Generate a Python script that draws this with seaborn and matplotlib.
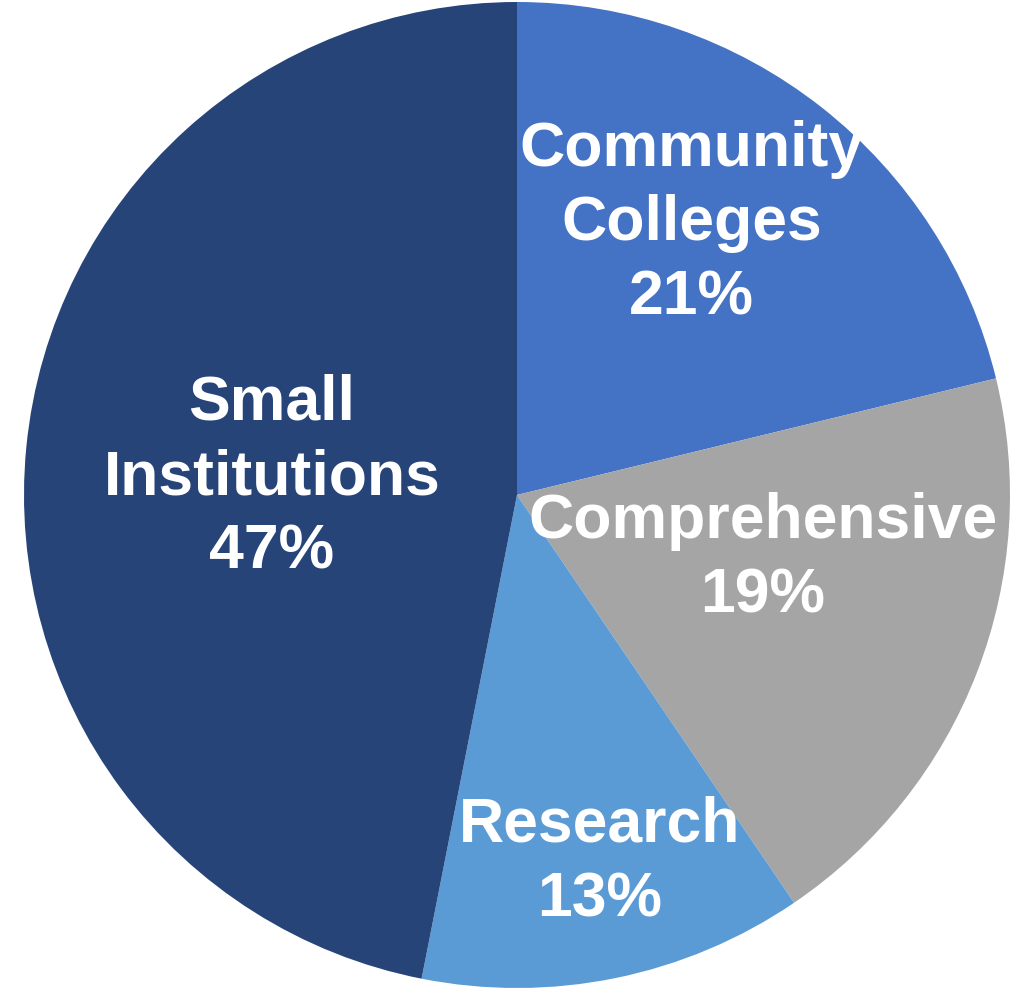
import numpy as np
import matplotlib
matplotlib.use("Agg")
import matplotlib.pyplot as plt
import seaborn as sns

# ---- data ----
categories = ["Community\nColleges", "Comprehensive", "Research", "Small\nInstitutions"]
shares = [21.2, 19.3, 12.6, 46.9]
colors = ["#4472C4", "#A5A5A5", "#5B9BD5", "#264478"]
# label centres, as (x, y) in pie-radius units from the centre
label_pos = [(0.354, 0.550), (0.498, -0.130), (0.168, -0.746), (-0.497, 0.035)]

sns.set_theme(style="white")
plt.rcParams["font.family"] = ["Liberation Sans", "DejaVu Sans"]

fig = plt.figure(figsize=(10.2, 9.9), dpi=100)
ax = fig.add_axes([24 / 1020, 2 / 990, 986 / 1020, 986 / 990])

wedges, _ = ax.pie(shares, colors=colors, startangle=90, counterclock=False,
                   radius=1.0, wedgeprops=dict(linewidth=0))

for name, val, (x, y) in zip(categories, shares, label_pos):
    ax.text(x, y, f"{name}\n{round(val)}%", ha="center", va="center", color="white",
            fontsize=45, fontweight="bold", linespacing=1.34)

ax.set_xlim(-1, 1)
ax.set_ylim(-1, 1)
ax.set_aspect("equal")
ax.axis("off")

fig.savefig("out.png", dpi=100)
